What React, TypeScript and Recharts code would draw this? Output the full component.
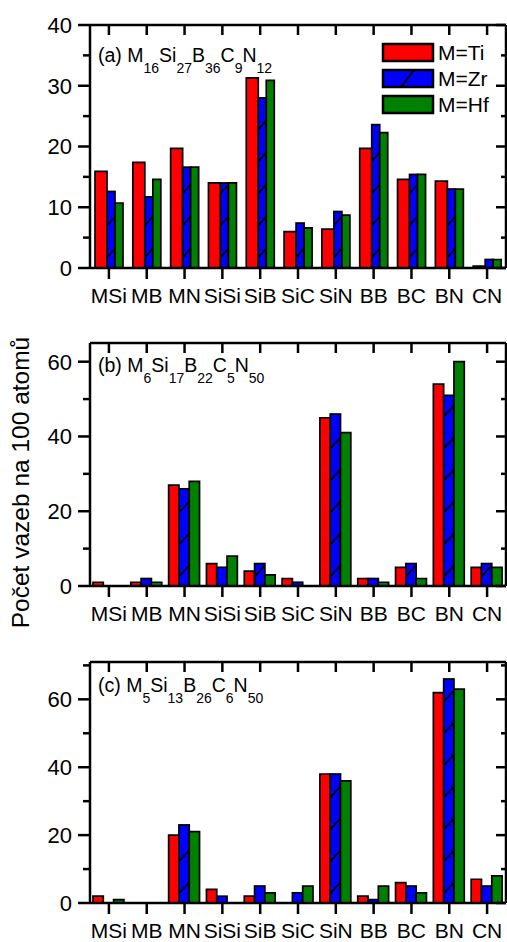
import { Bar, BarChart, Legend, XAxis, YAxis } from 'recharts';

const CATEGORIES = ['MSi', 'MB', 'MN', 'SiSi', 'SiB', 'SiC', 'SiN', 'BB', 'BC', 'BN', 'CN'];

// (a) M16Si27B36C9N12
const TI_A = [15.9, 17.4, 19.7, 14.0, 31.3, 6.0, 6.4, 19.7, 14.6, 14.3, 0.3];
const ZR_A = [12.6, 11.7, 16.6, 14.0, 28.0, 7.4, 9.3, 23.6, 15.4, 13.0, 1.4];
const HF_A = [10.7, 14.6, 16.6, 14.0, 30.9, 6.6, 8.7, 22.3, 15.4, 13.0, 1.4];

// (b) M6Si17B22C5N50
const TI_B = [1, 1, 27, 6, 4, 2, 45, 2, 5, 54, 5];
const ZR_B = [0, 2, 26, 5, 6, 1, 46, 2, 6, 51, 6];
const HF_B = [0, 1, 28, 8, 3, 0, 41, 1, 2, 60, 5];

// (c) M5Si13B26C6N50
const TI_C = [2, 0, 20, 4, 2, 0, 38, 2, 6, 62, 7];
const ZR_C = [0, 0, 23, 2, 5, 3, 38, 1, 5, 66, 5];
const HF_C = [1, 0, 21, 0, 3, 5, 36, 5, 3, 63, 8];

const TICKS_A = [0, 5, 10, 15, 20, 25, 30, 35, 40];
const MAJORS_A = [0, 10, 20, 30, 40];
const TICKS_B = [0, 10, 20, 30, 40, 50, 60];
const TICKS_C = [0, 10, 20, 30, 40, 50, 60, 70];
const MAJORS_BC = [0, 20, 40, 60];

const TITLE_A = [['(a) M', '16'], ['Si', '27'], ['B', '36'], ['C', '9'], ['N', '12']];
const TITLE_B = [['(b) M', '6'], ['Si', '17'], ['B', '22'], ['C', '5'], ['N', '50']];
const TITLE_C = [['(c) M', '5'], ['Si', '13'], ['B', '26'], ['C', '6'], ['N', '50']];

const SERIES = [
  { key: 'ti', label: 'M=Ti', color: '#FF0000' },
  { key: 'zr', label: 'M=Zr', color: '#0000FF' },
  { key: 'hf', label: 'M=Hf', color: '#008000' },
];

const FONT = '"Liberation Sans", Arial, sans-serif';
const W = 507;
const PL = 90; // plot left
const PR = 506; // plot right
const MT = 20; // plot top inside each chart
const AX = 2.5;

const makeRows = (ti: number[], zr: number[], hf: number[]) =>
  CATEGORIES.map((name, i) => ({ name, ti: ti[i], zr: zr[i], hf: hf[i] }));

function HatchedBar(props: any) {
  const { x, y, width, height, fill } = props;
  if (!height || height <= 0) return null;
  const slashes = [];
  for (let c = y + height - 15; c - width / 2 > y + 1; c -= 32) {
    slashes.push(
      <line key={c} x1={x + 0.5} y1={c + width / 2} x2={x + width - 0.5} y2={c - width / 2} stroke="#000" strokeWidth={1.7} />
    );
  }
  return (
    <g>
      <rect x={x} y={y} width={width} height={height} fill={fill} stroke="#000" strokeWidth={1.7} />
      {slashes}
    </g>
  );
}

function LeftTick({ y, payload, majors }: any) {
  const major = majors.includes(payload.value);
  return (
    <g>
      <line x1={PL - (major ? 12 : 7)} x2={PL} y1={y} y2={y} stroke="#000" strokeWidth={AX} />
      {major && (
        <text x={PL - 18} y={y} dy="0.36em" textAnchor="end" fontSize={22} fontFamily={FONT} fill="#000">
          {payload.value}
        </text>
      )}
    </g>
  );
}

function RightTick({ y, payload, majors }: any) {
  const major = majors.includes(payload.value);
  return <line x1={PR - (major ? 10 : 5)} x2={PR} y1={y} y2={y} stroke="#000" strokeWidth={AX} />;
}

function TopTick({ x }: any) {
  return <line x1={x} x2={x} y1={MT} y2={MT + 10} stroke="#000" strokeWidth={AX} />;
}

function LegendBox() {
  return (
    <svg width={130} height={80}>
      {SERIES.map((s, i) => {
        const y = 2 + i * 26;
        return (
          <g key={s.key}>
            <rect x={2} y={y} width={50} height={17} fill={s.color} stroke="#000" strokeWidth={2.5} />
            {s.key === 'zr' && <line x1={20} y1={y + 17} x2={33} y2={y} stroke="#000" strokeWidth={2} />}
            <text x={57} y={y + 8.5} dy="0.36em" fontSize={21} fontFamily={FONT} fill="#000">
              {s.label}
            </text>
          </g>
        );
      })}
    </svg>
  );
}

type PanelProps = {
  rows: any[];
  top: number;
  plotH: number;
  max: number;
  ticks: number[];
  majors: number[];
  sizes: number[];
  legend?: boolean;
};

function Panel({ rows, top, plotH, max, ticks, majors, sizes, legend }: PanelProps) {
  return (
    <div style={{ position: 'absolute', left: 0, top: top - MT }}>
      <BarChart
        width={W}
        height={plotH + MT + 39}
        data={rows}
        margin={{ top: MT - 2, right: 0, bottom: 0, left: 0 }}
        barGap={0}
      >
        <XAxis
          dataKey="name"
          height={39}
          interval={0}
          tickSize={11}
          tickMargin={9}
          axisLine={{ stroke: '#000', strokeWidth: AX }}
          tickLine={{ stroke: '#000', strokeWidth: AX }}
          tick={{ fill: '#000', fontSize: 21, fontFamily: FONT }}
        />
        <XAxis
          xAxisId="top"
          dataKey="name"
          orientation="top"
          height={2}
          interval={0}
          tickLine={false}
          tick={(p: any) => <TopTick {...p} />}
          axisLine={{ stroke: '#000', strokeWidth: AX }}
        />
        <YAxis
          width={PL}
          domain={[0, max]}
          ticks={ticks}
          interval={0}
          allowDataOverflow
          tickLine={false}
          axisLine={{ stroke: '#000', strokeWidth: AX }}
          tick={(p: any) => <LeftTick {...p} majors={majors} />}
        />
        <YAxis
          yAxisId="right"
          orientation="right"
          width={W - PR}
          domain={[0, max]}
          ticks={ticks}
          interval={0}
          allowDataOverflow
          tickLine={false}
          axisLine={{ stroke: '#000', strokeWidth: AX }}
          tick={(p: any) => <RightTick {...p} majors={majors} />}
        />
        {legend && (
          <Legend
            layout="horizontal"
            verticalAlign="middle"
            align="center"
            width={130}
            wrapperStyle={{ top: 42 - (top - MT), left: 381, width: 130, height: 80 }}
            content={() => <LegendBox />}
          />
        )}
        {SERIES.map((s, i) => (
          <Bar
            key={s.key}
            dataKey={s.key}
            name={s.label}
            fill={s.color}
            stroke="#000"
            strokeWidth={1.7}
            barSize={sizes[i]}
            shape={s.key === 'zr' ? (p: any) => <HatchedBar {...p} /> : undefined}
            isAnimationActive={false}
          />
        ))}
      </BarChart>
    </div>
  );
}

function Title({ parts, y }: { parts: string[][]; y: number }) {
  return (
    <text x={98} y={y} fontSize={19.5} fontFamily={FONT} fill="#000">
      {parts.map(([main, sub], i) => [
        <tspan key={`m${i}`} dy={i === 0 ? 0 : -10.5}>{main}</tspan>,
        <tspan key={`s${i}`} dy={10.5} fontSize={14}>{sub}</tspan>,
      ])}
    </text>
  );
}

export default function App() {
  return (
    <div style={{ position: 'absolute', left: 0, top: 0, width: W, height: 942, background: '#fff', fontFamily: FONT }}>
      <Panel rows={makeRows(TI_A, ZR_A, HF_A)} top={25} plotH={243} max={40} ticks={TICKS_A} majors={MAJORS_A} sizes={[12, 8, 8]} legend />
      <Panel rows={makeRows(TI_B, ZR_B, HF_B)} top={343} plotH={243} max={65} ticks={TICKS_B} majors={MAJORS_BC} sizes={[10.3, 10.3, 10.3]} />
      <Panel rows={makeRows(TI_C, ZR_C, HF_C)} top={662} plotH={241} max={71} ticks={TICKS_C} majors={MAJORS_BC} sizes={[10.3, 10.3, 10.3]} />
      <svg width={W} height={942} style={{ position: 'absolute', left: 0, top: 0, pointerEvents: 'none' }}>
        <Title parts={TITLE_A} y={62} />
        <Title parts={TITLE_B} y={372} />
        <Title parts={TITLE_C} y={692} />
        <text
          transform="translate(28.5, 482.5) rotate(-90)"
          textAnchor="middle"
          fontSize={24.5}
          fontFamily={FONT}
          fill="#000"
        >
          Počet vazeb na 100 atomů
        </text>
      </svg>
    </div>
  );
}
